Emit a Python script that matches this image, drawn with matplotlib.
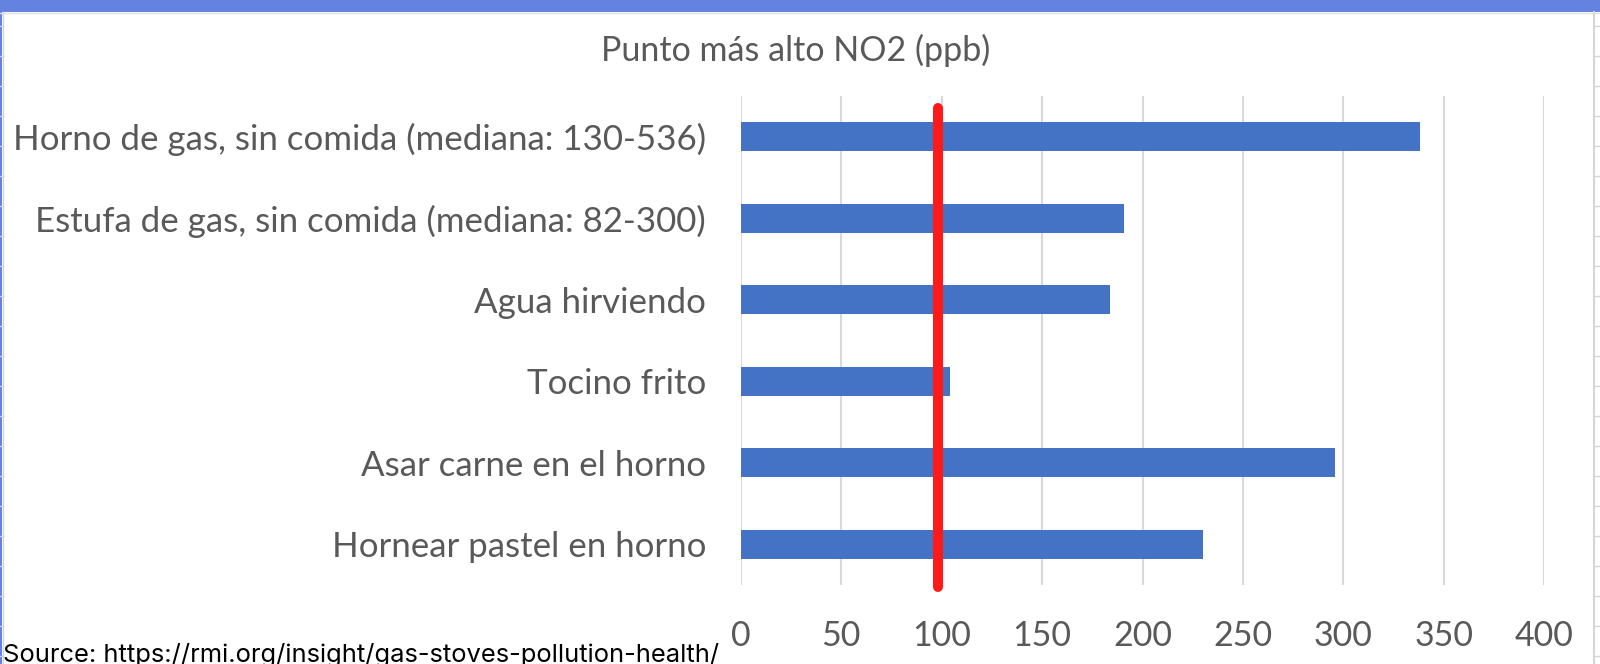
import numpy as np
import matplotlib.pyplot as plt
from matplotlib.patches import Rectangle
from matplotlib.lines import Line2D

# data
categories = ['Horno de gas, sin comida (mediana: 130-536)',
              'Estufa de gas, sin comida (mediana: 82-300)',
              'Agua hirviendo',
              'Tocino frito',
              'Asar carne en el horno',
              'Hornear pastel en horno']
values = [338, 191, 184, 104, 296, 230]
limit = 98
xticks = [0, 50, 100, 150, 200, 250, 300, 350, 400]

W, H = 1600, 664
fig = plt.figure(figsize=(W/100., H/100.), dpi=100)
ax = fig.add_axes([740.7/W, 1-585./H, (1544.3-740.7)/W, (585.-96.)/H])

y = np.arange(len(categories))
ax.barh(y, values, height=0.355, color='#4472C4', zorder=2)
ax.set_ylim(len(categories)-0.5, -0.5)
ax.set_xlim(0, 400)
ax.set_xticks(xticks)
ax.set_yticks(y)
ax.set_yticklabels(categories, family='Lato', size=25.1, color='#595959')
ax.set_xticklabels([str(t) for t in xticks], family='Lato', size=24.5, color='#595959')
ax.tick_params(axis='y', length=0, pad=25)
ax.tick_params(axis='x', length=0, pad=25)
for s in ax.spines.values():
    s.set_visible(False)
ax.grid(axis='x', color='#D9D9D9', lw=1.5, zorder=0)

# red reference line
ax.plot([limit, limit], [-0.355, 5.53], color='#FF1A1A', lw=7.2,
        solid_capstyle='round', clip_on=False, zorder=3)

fig.text(796./W, 1-50./H, 'Punto más alto NO2 (ppb)', family='Lato', size=24.5,
         color='#595959', ha='center', va='center')
fig.text(3./W, 1-662./H, 'Source: https://rmi.org/insight/gas-stoves-pollution-health/',
         family='Inter', size=18.4, color='black', ha='left', va='baseline')

# spreadsheet frame bits
fig.add_artist(Rectangle((0, 1-12./H), 1, 12./H, transform=fig.transFigure,
                         color='#6482E0', lw=0))
fig.add_artist(Rectangle((0, 0), 2./W, 1-12./H, transform=fig.transFigure,
                         color='#6482E0', lw=0))
fig.add_artist(Line2D([0, 1], [1-12.5/H, 1-12.5/H], transform=fig.transFigure,
                      color='#E0E0E0', lw=1))
fig.add_artist(Line2D([3./W, 3./W], [0, 1-12./H], transform=fig.transFigure,
                      color='#D6D6D6', lw=1))
fig.add_artist(Line2D([1594./W, 1594./W], [0, 1-12./H], transform=fig.transFigure,
                      color='#D6D6D6', lw=1.5))
for r in np.arange(25.5, H, 30.):
    fig.add_artist(Line2D([1594./W, 1.], [1-r/H, 1-r/H], transform=fig.transFigure,
                          color='#D6D6D6', lw=1))
    fig.add_artist(Line2D([0, 3./W], [1-r/H, 1-r/H], transform=fig.transFigure,
                          color='#C8D2F0', lw=1))

fig.savefig('out.png', dpi=100)
